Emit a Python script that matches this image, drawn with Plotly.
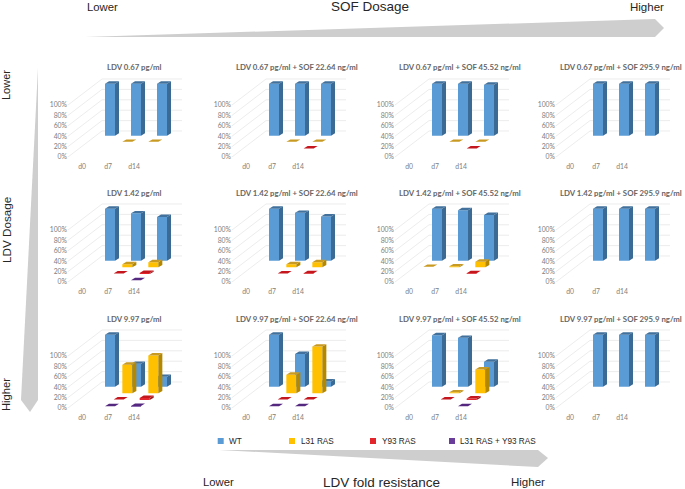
import plotly.graph_objects as go

# values are % of viral population, rows = LDV dose, cols = SOF dose, inner = d0, d7, d14
ldv_doses = ["0.67", "1.42", "9.97"]
sof_doses = [None, "22.64", "45.52", "295.9"]
days = ["d0", "d7", "d14"]
series_names = ["WT", "L31 RAS", "Y93 RAS", "L31 RAS + Y93 RAS"]

wt_values = [
    [[100, 100, 100], [100, 100, 100], [100, 100, 98], [100, 100, 100]],
    [[100, 91, 84], [100, 92, 85], [100, 97, 88], [100, 100, 100]],
    [[100, 44, 19], [100, 63, 10], [99, 94, 48], [100, 100, 100]],
]
l31_values = [
    [[0, 1, 1], [0, 1, 1], [0, 1, 1], [0, 0, 0]],
    [[0, 6, 10], [0, 6, 10], [1, 2, 11], [0, 0, 0]],
    [[0, 55, 73], [0, 36, 90], [0, 2, 46], [0, 0, 0]],
]
y93_values = [
    [[0, 0, 0], [0, 0, 1], [0, 0, 1], [0, 0, 0]],
    [[0, 1, 2], [0, 1, 1.5], [0, 0, 1.5], [0, 0, 0]],
    [[0, 1, 4], [0, 1, 1], [0, 1, 3], [0, 0, 0]],
]
combo_values = [
    [[0, 0, 0], [0, 0, 0], [0, 0, 0], [0, 0, 0]],
    [[0, 0, 1], [0, 0, 0], [0, 0, 0], [0, 0, 0]],
    [[0, 1, 1.5], [0, 1, 1], [0, 0, 1], [0, 0, 0]],
]

# front, side, top colours for each series
colors = {
    "WT": ("#5b9bd5", "#3b6a94", "#41719c"),
    "L31 RAS": ("#ffc000", "#b38700", "#c99a22"),
    "Y93 RAS": ("#e3262b", "#9f1a1e", "#c4161c"),
    "L31 RAS + Y93 RAS": ("#6a3d9a", "#4a2a6c", "#54287f"),
}
legend_colors = ["#5b9bd5", "#ffc000", "#e3262b", "#6a3d9a"]

W, H = 685, 489
col_left = [68, 232, 395, 556]
row_zero = [157, 282, 408]
title_y = [67.5, 193, 319]
title_x = [134, 297, 460, 621]

# scale of one panel
PX_PER_DAY = 26.0
PX_PER_PCT = 0.52
PANEL_W, PANEL_H = 114, 82
LEFT_PAD = 14
BAR_W = 10 / PX_PER_DAY
DEPTH_X = 4 / PX_PER_DAY
DEPTH_Y = 2.4 / PX_PER_PCT
ROW_X = 8.67 / PX_PER_DAY
ROW_Y = 6.67 / PX_PER_PCT
ROW_X0 = 2 / PX_PER_DAY
ROW_Y0 = 1.3 / PX_PER_PCT
WALL_X = (102 - 68 - LEFT_PAD) / PX_PER_DAY
WALL_Y = 26 / PX_PER_PCT
GRID = "#e4e4e4"
TICK = "#808080"


def px(x):
    return x / W


def py(y):
    return 1 - y / H


def add_polys(fig, polys, color, axis):
    xs, ys = [], []
    for poly in polys:
        xs += [p[0] for p in poly] + [poly[0][0], None]
        ys += [p[1] for p in poly] + [poly[0][1], None]
    fig.add_trace(go.Scatter(x=xs, y=ys, mode="lines", fill="toself", fillcolor=color,
                             line=dict(width=0, color=color), hoverinfo="skip",
                             xaxis="x" + axis, yaxis="y" + axis))


def add_series(fig, values, depth, cols, axis):
    front, side, top = [], [], []
    for i, v in enumerate(values):
        if not v:
            continue
        c = i + ROW_X0 + depth * ROW_X
        l, r = c - BAR_W / 2, c + BAR_W / 2
        b = ROW_Y0 + depth * ROW_Y
        t = b + v
        front.append([(l, b), (r, b), (r, t), (l, t)])
        side.append([(r, b), (r + DEPTH_X, b + DEPTH_Y), (r + DEPTH_X, t + DEPTH_Y), (r, t)])
        top.append([(l, t), (r, t), (r + DEPTH_X, t + DEPTH_Y), (l + DEPTH_X, t + DEPTH_Y)])
    add_polys(fig, front, cols[0], axis)
    add_polys(fig, side, cols[1], axis)
    add_polys(fig, top, cols[2], axis)


fig = go.Figure()
layout_axes = {}
annotations = []
shapes = []
n = 0
for r, ldv in enumerate(ldv_doses):
    for c, sof in enumerate(sof_doses):
        n += 1
        axis = "" if n == 1 else str(n)
        x_lo = -LEFT_PAD / PX_PER_DAY
        x_hi = x_lo + PANEL_W / PX_PER_DAY
        y_hi = PANEL_H / PX_PER_PCT

        # floor/wall gridlines
        gx, gy = [], []
        for pct in range(0, 101, 20):
            gx += [x_lo, x_lo + WALL_X + LEFT_PAD / PX_PER_DAY, x_hi, None]
            gy += [pct, pct + WALL_Y, pct + WALL_Y, None]
        fig.add_trace(go.Scatter(x=gx, y=gy, mode="lines", line=dict(color=GRID, width=0.7),
                                 hoverinfo="skip", xaxis="x" + axis, yaxis="y" + axis))

        # back row first so nearer rows cover it
        add_series(fig, wt_values[r][c], 3, colors["WT"], axis)
        add_series(fig, l31_values[r][c], 2, colors["L31 RAS"], axis)
        add_series(fig, y93_values[r][c], 1, colors["Y93 RAS"], axis)
        add_series(fig, combo_values[r][c], 0, colors["L31 RAS + Y93 RAS"], axis)

        # the default template turns automargin on, which squeezes the page coordinates
        layout_axes["xaxis" + axis] = dict(
            domain=[px(col_left[c]), px(col_left[c] + PANEL_W)], range=[x_lo, x_hi],
            anchor="y" + axis, tickvals=[0, 1, 2], ticktext=days, showgrid=False,
            zeroline=False, showline=False, ticks="", ticklabelstandoff=4, automargin=False,
            tickfont=dict(family="Lato", size=6.8, color=TICK))
        layout_axes["yaxis" + axis] = dict(
            domain=[py(row_zero[r]), py(row_zero[r] - PANEL_H)], range=[0, y_hi],
            anchor="x" + axis, tickvals=[0, 20, 40, 60, 80, 100],
            ticktext=["0%", "20%", "40%", "60%", "80%", "100%"], showgrid=False,
            zeroline=False, showline=False, ticks="", automargin=False,
            tickfont=dict(family="Lato", size=6.8, color=TICK))

        title = f"LDV {ldv} pg/ml"
        if sof:
            title += f" + SOF {sof} ng/ml"
        annotations.append(dict(text=title, x=px(title_x[c]), y=py(title_y[r]), xref="paper",
                                yref="paper", showarrow=False, xanchor="center", yanchor="middle",
                                font=dict(family="Lato", size=7.8, color="#666666", weight="bold")))


def label(text, x, y, size, angle=0, anchor="center"):
    annotations.append(dict(text=text, x=px(x), y=py(y), xref="paper", yref="paper",
                            showarrow=False, xanchor=anchor, yanchor="middle", textangle=angle,
                            font=dict(family="Liberation Sans", size=size, color="#262626")))


def wedge(points):
    path = "M" + " L".join(f"{px(a):.5f},{py(b):.5f}" for a, b in points) + " Z"
    shapes.append(dict(type="path", path=path, xref="paper", yref="paper",
                       fillcolor="#cfcecf", line=dict(width=0), layer="below"))


wedge([(85, 37), (655, 19), (664, 28), (655, 37)])
wedge([(38, 68), (38, 400), (30, 412), (21, 400)])
wedge([(219, 450), (538, 450), (548, 458), (538, 467)])

label("Lower", 102.5, 7, 11.3)
label("SOF Dosage", 370, 7, 13.5)
label("Higher", 647, 7, 11.5)
label("Lower", 6, 85, 11, -90)
label("LDV Dosage", 6, 230, 11.7, -90)
label("Higher", 6, 395, 11.2, -90)
label("Lower", 218.5, 482, 11.3)
label("LDV fold resistance", 381, 482, 13.5)
label("Higher", 528, 482, 11.5)

legend_x = [220.7, 292, 373, 452]
for name, color, x in zip(series_names, legend_colors, legend_x):
    shapes.append(dict(type="rect", xref="paper", yref="paper", x0=px(x - 3), x1=px(x + 3),
                       y0=py(444), y1=py(438), fillcolor=color, line=dict(width=0)))
    label(name, x + 6.5, 441, 8.2, anchor="left")

fig.update_layout(width=W, height=H, margin=dict(l=0, r=0, t=0, b=0), showlegend=False,
                  paper_bgcolor="white", plot_bgcolor="rgba(0,0,0,0)",
                  annotations=annotations, shapes=shapes, **layout_axes)

fig.write_html("out.html", config={"displayModeBar": False},
               post_script="document.body.style.margin='0';")
